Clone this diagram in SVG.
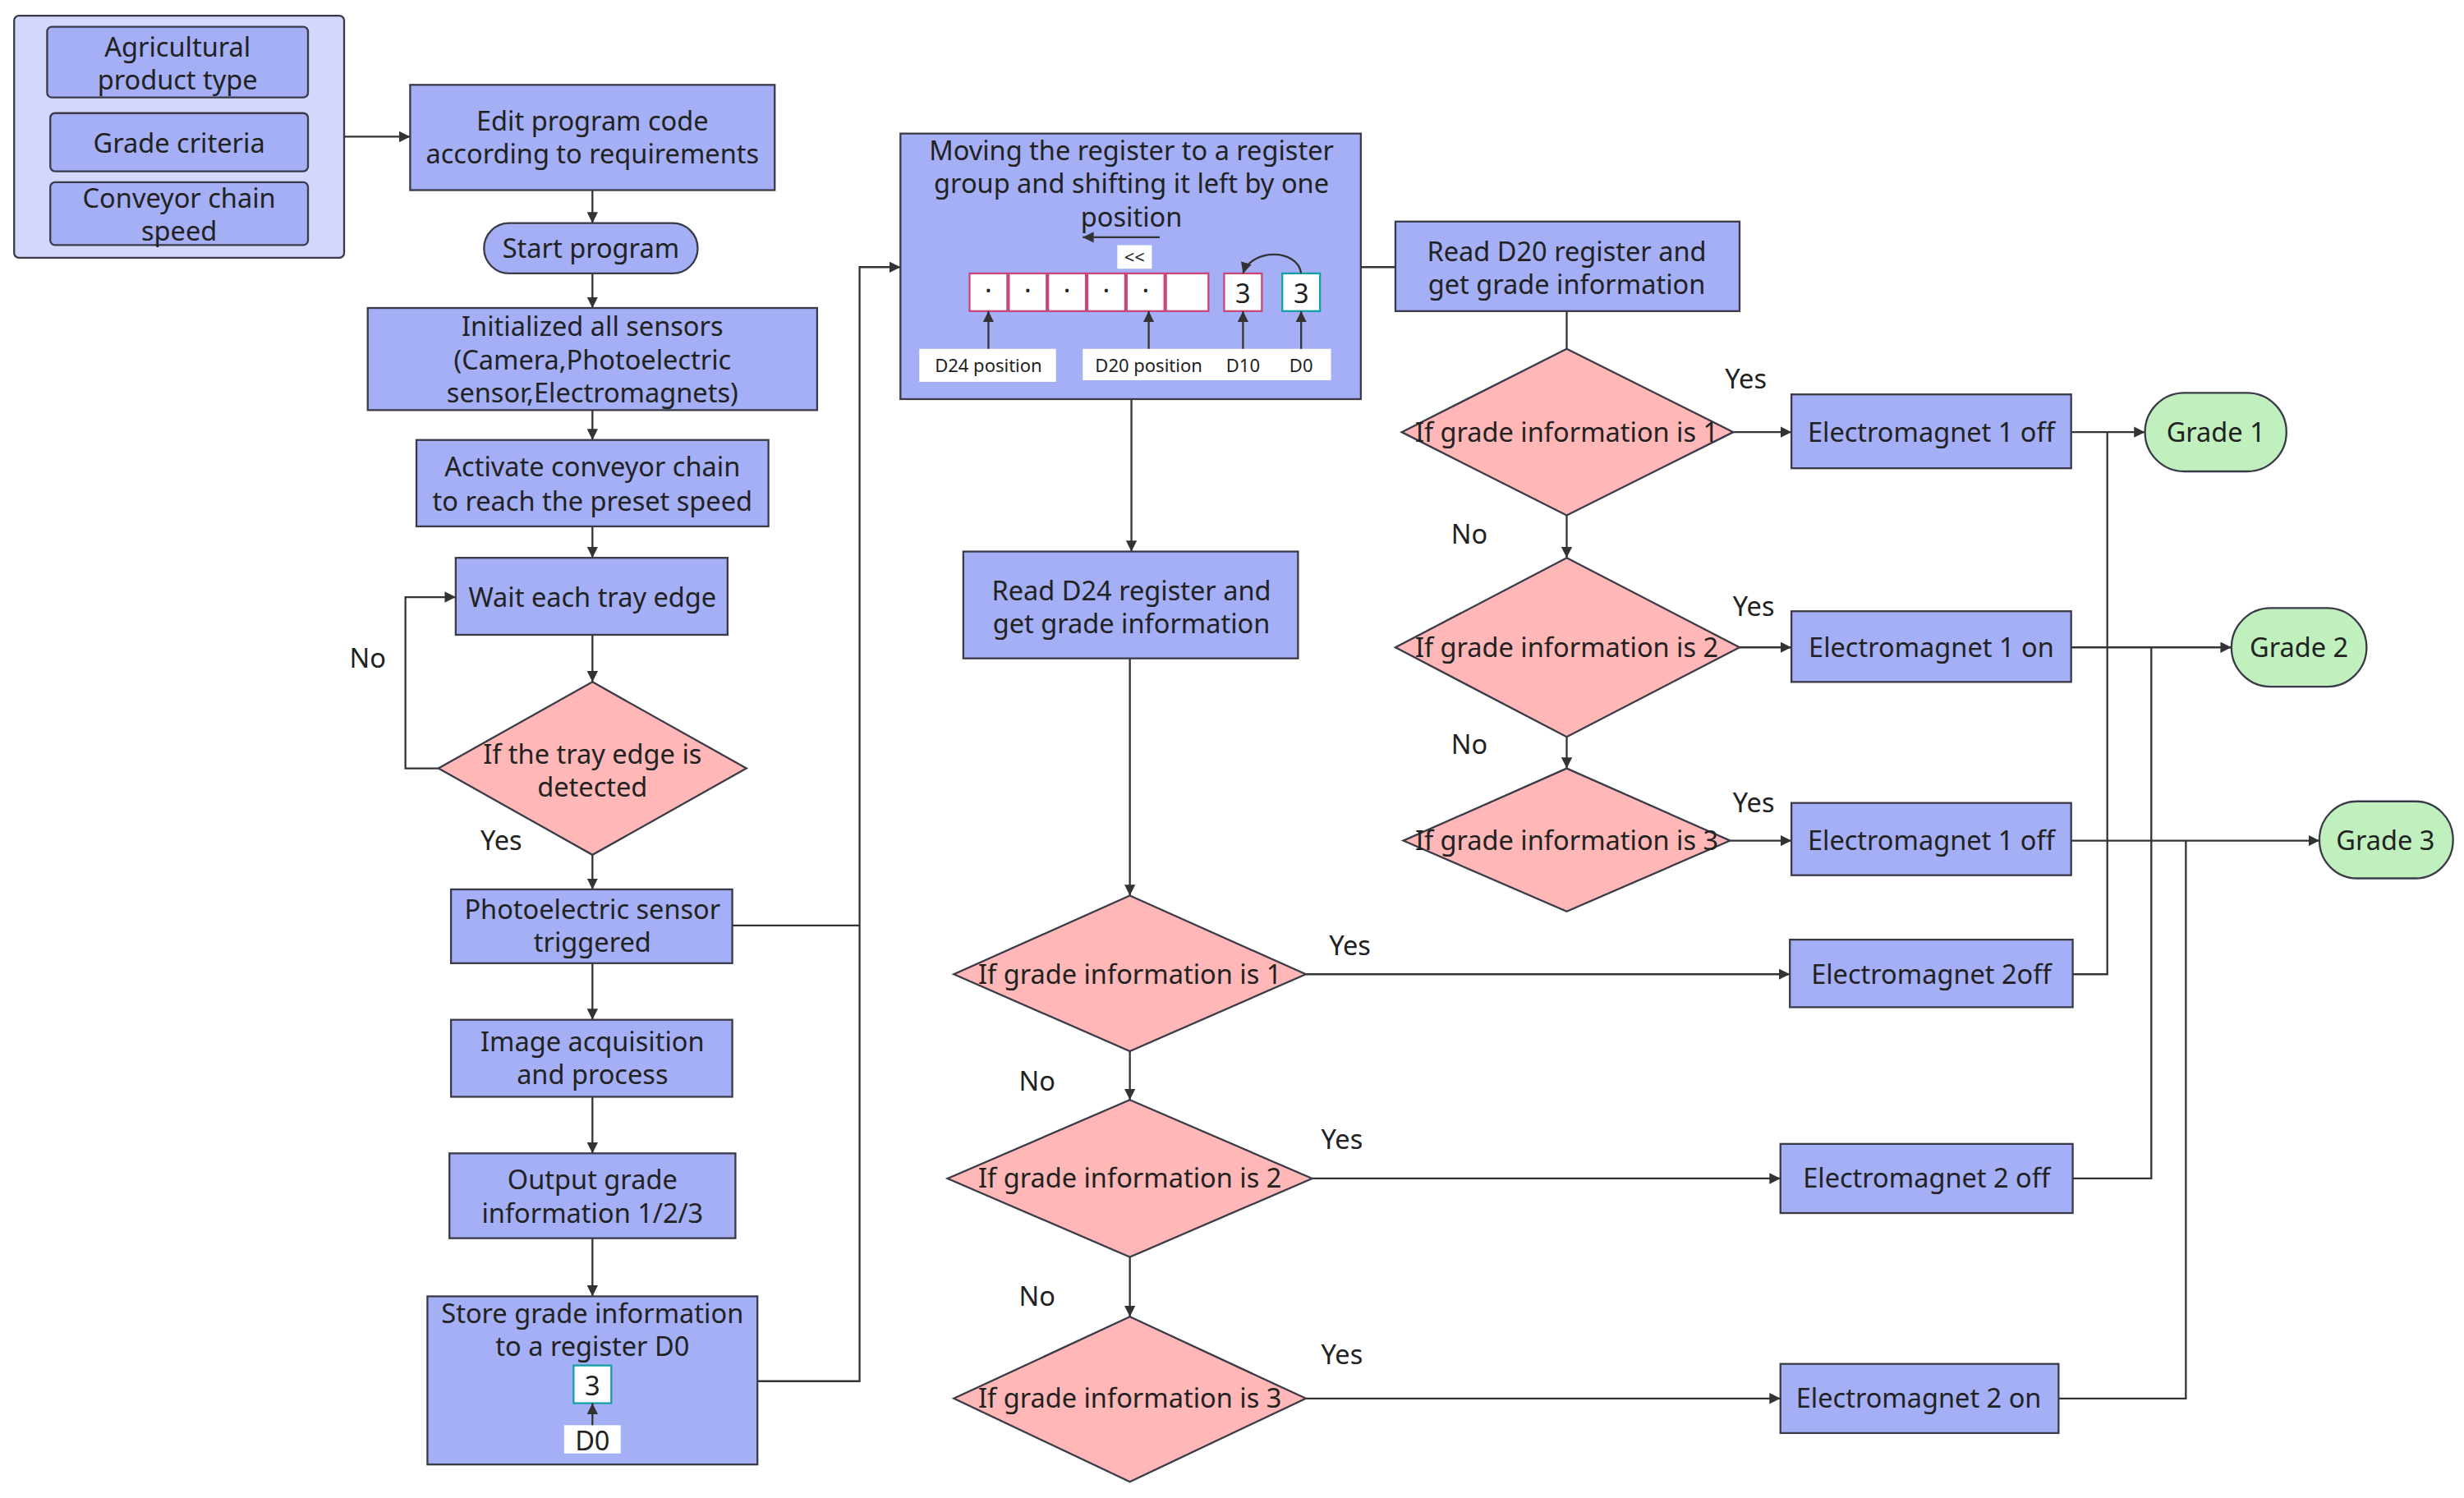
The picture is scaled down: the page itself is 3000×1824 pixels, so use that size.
<svg xmlns="http://www.w3.org/2000/svg" width="3000" height="1824" viewBox="0 0 3000 1824">
<style>
.n{fill:#a4aff6;stroke:#3a3a48;stroke-width:1.2}
.c{fill:#d3d7fb;stroke:#3a3a48;stroke-width:1.2}
.d{fill:#ffb7b7;stroke:#3a3a48;stroke-width:1.2}
.g{fill:#bff0bd;stroke:#3a3a48;stroke-width:1.2}
.w{fill:#fff;stroke:none}
.pk{fill:#fff;stroke:#c8457e;stroke-width:1.2}
.tl{fill:#fff;stroke:#179fa6;stroke-width:1.2}
text{font-family:"Noto Sans","Open Sans","Liberation Sans",sans-serif;font-size:17px;fill:#222;text-anchor:middle}
.s{font-size:11.5px}
.l{fill:none;stroke:#333;stroke-width:1.2}
.a{fill:none;stroke:#333;stroke-width:1.2;marker-end:url(#ar)}
</style>
<defs><marker id="ar" viewBox="0 0 10 10" refX="10" refY="5" markerWidth="7" markerHeight="7" orient="auto" markerUnits="userSpaceOnUse"><path d="M0,0L10,5L0,10z" fill="#333"/></marker></defs>
<rect width="3000" height="1824" fill="#fff"/>
<g transform="scale(1.91327)">
<g id="connectors">
<path class="a" d="M219,87H261"/>
<path class="a" d="M377,121V142"/>
<path class="a" d="M377,174V196"/>
<path class="a" d="M377,261V280"/>
<path class="a" d="M377,335V355"/>
<path class="a" d="M377,404V434"/>
<path class="a" d="M279,489H258V380H290"/>
<path class="a" d="M377,544V566"/>
<path class="a" d="M377,613V649"/>
<path class="a" d="M377,698V734"/>
<path class="a" d="M377,788V825"/>
<path class="l" d="M466,589H547"/>
<path class="a" d="M482,879H547V170H573"/>
<path class="l" d="M866,170H888"/>
<path class="a" d="M720,254V351"/>
<path class="a" d="M719,419V570"/>
<path class="a" d="M719,669V700"/>
<path class="a" d="M719,800V838"/>
<path class="a" d="M831,620H1139"/>
<path class="a" d="M835,750H1133"/>
<path class="a" d="M831,890H1133"/>
<path class="l" d="M997,198V222"/>
<path class="a" d="M997,328V355"/>
<path class="a" d="M997,469V489"/>
<path class="a" d="M1103,275H1140"/>
<path class="a" d="M1107,412H1140"/>
<path class="a" d="M1101,535H1140"/>
<path class="a" d="M1318,275H1365"/>
<path class="a" d="M1318,412H1420"/>
<path class="a" d="M1318,535H1476"/>
<path class="l" d="M1319,620H1341V275"/>
<path class="l" d="M1319,750H1369V412"/>
<path class="l" d="M1310,890H1391V535"/>
</g>
<g id="inputs">
<rect class="c" x="9" y="10" width="210" height="154" rx="3"/>
<rect class="n" x="30" y="17" width="166" height="45" rx="3"/>
<text x="113" y="36">Agricultural</text><text x="113" y="57">product type</text>
<rect class="n" x="32" y="72" width="164" height="37" rx="3"/>
<text x="114" y="97">Grade criteria</text>
<rect class="n" x="32" y="116" width="164" height="40" rx="3"/>
<text x="114" y="132">Conveyor chain</text><text x="114" y="153">speed</text>
</g>
<g id="edit"><rect class="n" x="261" y="54" width="232" height="67"/><text x="377" y="83">Edit program code</text><text x="377" y="104">according to requirements</text></g>
<g id="start"><rect class="n" x="308" y="142" width="136" height="32" rx="16"/><text x="376" y="164">Start program</text></g>
<g id="init"><rect class="n" x="234" y="196" width="286" height="65"/><text x="377" y="214">Initialized all sensors</text><text x="377" y="235">(Camera,Photoelectric</text><text x="377" y="256">sensor,Electromagnets)</text></g>
<g id="activate"><rect class="n" x="265" y="280" width="224" height="55"/><text x="377" y="303">Activate conveyor chain</text><text x="377" y="325">to reach the preset speed</text></g>
<g id="wait"><rect class="n" x="290" y="355" width="173" height="49"/><text x="377" y="386">Wait each tray edge</text></g>
<g id="tray"><polygon class="d" points="377,434 475,489 377,544 279,489"/><text x="377" y="486">If the tray edge is</text><text x="377" y="507">detected</text></g>
<text x="234" y="425">No</text><text x="319" y="541">Yes</text>
<g id="photo"><rect class="n" x="287" y="566" width="179" height="47"/><text x="377" y="585">Photoelectric sensor</text><text x="377" y="606">triggered</text></g>
<g id="image"><rect class="n" x="287" y="649" width="179" height="49"/><text x="377" y="669">Image acquisition</text><text x="377" y="690">and process</text></g>
<g id="output"><rect class="n" x="286" y="734" width="182" height="54"/><text x="377" y="757">Output grade</text><text x="377" y="778">information 1/2/3</text></g>
<g id="store"><rect class="n" x="272" y="825" width="210" height="107"/><text x="377" y="842">Store grade information</text><text x="377" y="863">to a register D0</text>
<rect class="tl" x="365" y="869" width="24" height="24"/><text x="377" y="888">3</text>
<rect class="w" x="359" y="907" width="36" height="18"/><text x="377" y="923">D0</text>
<path class="a" d="M377,907V893"/></g>
<g id="shift"><rect class="n" x="573" y="85" width="293" height="169"/>
<text x="720" y="102">Moving the register to a register</text><text x="720" y="123">group and shifting it left by one</text><text x="720" y="144">position</text>
<path class="a" d="M738,151H689"/>
<rect class="w" x="711" y="156" width="22" height="15"/><text class="s" x="722" y="168">&lt;&lt;</text>
<rect class="pk" x="617" y="174" width="24" height="24"/><rect class="pk" x="642" y="174" width="24" height="24"/><rect class="pk" x="667" y="174" width="24" height="24"/><rect class="pk" x="692" y="174" width="24" height="24"/><rect class="pk" x="717" y="174" width="24" height="24"/><rect class="pk" x="742" y="174" width="27" height="24"/>
<text x="629" y="191">·</text><text x="654" y="191">·</text><text x="679" y="191">·</text><text x="704" y="191">·</text><text x="729" y="191">·</text>
<rect class="pk" x="779" y="174" width="24" height="24"/><text x="791" y="193">3</text>
<rect class="tl" x="816" y="174" width="24" height="24"/><text x="828" y="193">3</text>
<path class="a" d="M828,174C826,158 796,158 791,174"/>
<rect class="w" x="585" y="222" width="87" height="21"/><text class="s" x="629" y="237">D24 position</text>
<rect class="w" x="689" y="222" width="158" height="20"/><text class="s" x="731" y="237">D20 position</text><text class="s" x="791" y="237">D10</text><text class="s" x="828" y="237">D0</text>
<path class="a" d="M629,222V198"/><path class="a" d="M731,222V198"/><path class="a" d="M791,222V198"/><path class="a" d="M828,222V198"/>
</g>
<g id="readD24"><rect class="n" x="613" y="351" width="213" height="68"/><text x="720" y="382">Read D24 register and</text><text x="720" y="403">get grade information</text></g>
<g id="a1"><polygon class="d" points="719,570 831,620 719,669 607,620"/><text x="719" y="626">If grade information is 1</text></g>
<g id="a2"><polygon class="d" points="719,700 835,750 719,800 603,750"/><text x="719" y="756">If grade information is 2</text></g>
<g id="a3"><polygon class="d" points="719,838 831,890 719,943 607,890"/><text x="719" y="896">If grade information is 3</text></g>
<text x="660" y="694">No</text><text x="660" y="831">No</text>
<text x="859" y="608">Yes</text><text x="854" y="731">Yes</text><text x="854" y="868">Yes</text>
<g id="em2a"><rect class="n" x="1139" y="598" width="180" height="43"/><text x="1229" y="626">Electromagnet 2off</text></g>
<g id="em2b"><rect class="n" x="1133" y="728" width="186" height="44"/><text x="1226" y="756">Electromagnet 2 off</text></g>
<g id="em2c"><rect class="n" x="1133" y="868" width="177" height="44"/><text x="1221" y="896">Electromagnet 2 on</text></g>
<g id="readD20"><rect class="n" x="888" y="141" width="219" height="57"/><text x="997" y="166">Read D20 register and</text><text x="997" y="187">get grade information</text></g>
<g id="b1"><polygon class="d" points="997,222 1103,275 997,328 892,275"/><text x="997" y="281">If grade information is 1</text></g>
<g id="b2"><polygon class="d" points="997,355 1107,412 997,469 888,412"/><text x="997" y="418">If grade information is 2</text></g>
<g id="b3"><polygon class="d" points="997,489 1101,535 997,580 893,535"/><text x="997" y="541">If grade information is 3</text></g>
<text x="1111" y="247">Yes</text><text x="1116" y="392">Yes</text><text x="1116" y="517">Yes</text>
<text x="935" y="346">No</text><text x="935" y="480">No</text>
<g id="em1a"><rect class="n" x="1140" y="251" width="178" height="47"/><text x="1229" y="281">Electromagnet 1 off</text></g>
<g id="em1b"><rect class="n" x="1140" y="389" width="178" height="45"/><text x="1229" y="418">Electromagnet 1 on</text></g>
<g id="em1c"><rect class="n" x="1140" y="511" width="178" height="46"/><text x="1229" y="541">Electromagnet 1 off</text></g>
<g id="grade1"><rect class="g" x="1365" y="250" width="90" height="50" rx="25"/><text x="1410" y="281">Grade 1</text></g>
<g id="grade2"><rect class="g" x="1420" y="387" width="86" height="50" rx="25"/><text x="1463" y="418">Grade 2</text></g>
<g id="grade3"><rect class="g" x="1476" y="510" width="85" height="49" rx="24"/><text x="1518" y="541">Grade 3</text></g>
</g>
</svg>
